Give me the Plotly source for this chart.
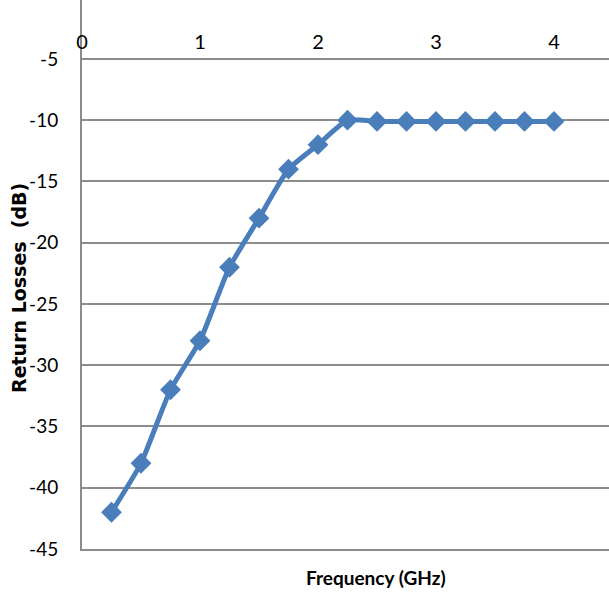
import plotly.graph_objects as go

freq = [0.25, 0.5, 0.75, 1.0, 1.25, 1.5, 1.75, 2.0, 2.25, 2.5, 2.75, 3.0, 3.25, 3.5, 3.75, 4.0]
return_loss = [-42, -38, -32, -28, -22, -18, -14, -12, -10, -10.1, -10.1, -10.1, -10.1, -10.1, -10.1, -10.1]
x_ticks = [0, 1, 2, 3, 4]
y_ticks = [-45, -40, -35, -30, -25, -20, -15, -10, -5]

W, H = 609, 592
ML, MB = 82, 43
x_max = (W - ML) / 118.0
y_top = -5 + 59 / 12.26
y_min = -45

fig = go.Figure()
fig.add_trace(go.Scatter(
    x=freq, y=return_loss, mode="lines+markers",
    line=dict(color="#4A7EBB", width=5, shape="spline", smoothing=0.5),
    marker=dict(symbol="diamond", size=16, color="#4A7EBB"),
    showlegend=False, hoverinfo="skip",
))
fig.add_trace(go.Scatter(x=[None], y=[None], xaxis="x2", showlegend=False, hoverinfo="skip"))

pos = (-5 - y_min) / (y_top - y_min)
yfont = dict(family="Lato", size=19, color="#000000")
xfont = dict(family="Lato", size=20, color="#000000")

fig.update_layout(
    width=W, height=H,
    margin=dict(l=ML, r=0, t=0, b=MB),
    paper_bgcolor="white", plot_bgcolor="white",
    xaxis=dict(range=[0, x_max], showticklabels=False, showgrid=False, zeroline=False,
               showline=True, linecolor="#8c8c8c", linewidth=2, ticks=""),
    xaxis2=dict(range=[0, x_max], overlaying="x", anchor="free", position=pos, side="top",
                tickvals=x_ticks, ticktext=[str(t) for t in x_ticks], showgrid=False,
                zeroline=False, showline=False, ticks="", tickfont=xfont, ticklabelstandoff=6),
    yaxis=dict(range=[y_min, y_top], tickvals=y_ticks, ticktext=[str(t) for t in y_ticks],
               showgrid=True, gridcolor="#8c8c8c", gridwidth=2, zeroline=False,
               showline=True, linecolor="#8c8c8c", linewidth=2, ticks="",
               tickfont=yfont, ticklabelstandoff=18),
)
fig.add_annotation(text="Frequency (GHz)", xref="paper", yref="paper",
                   x=(376 - ML) / (W - ML), y=-(577 - (H - MB)) / (H - MB),
                   xanchor="center", yanchor="middle", showarrow=False,
                   font=dict(family="Lato", size=19, color="#000000", weight="bold"))
fig.add_annotation(text="Return Losses  (dB)", xref="paper", yref="paper",
                   x=-(ML - 19) / (W - ML), y=(H - MB - 288) / (H - MB),
                   xanchor="center", yanchor="middle", showarrow=False, textangle=-90,
                   font=dict(family="DejaVu Sans", size=19, color="#000000", weight="bold"))
fig.write_html("out.html")
